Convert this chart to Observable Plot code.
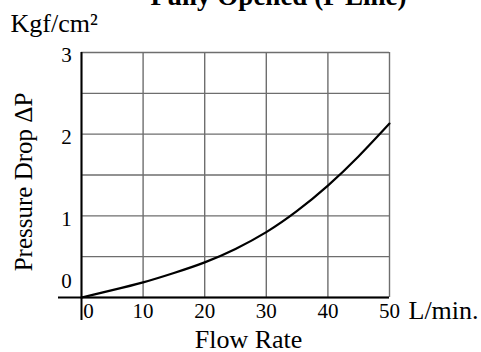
<!DOCTYPE html>
<html>
<head>
<meta charset="utf-8">
<script src="https://cdn.jsdelivr.net/npm/d3@7"></script>
<script src="https://cdn.jsdelivr.net/npm/@observablehq/plot@0.6"></script>
<style>
  html, body { margin: 0; padding: 0; background: #fff; }
  #chart { width: 481px; height: 352px; overflow: hidden; }
</style>
</head>
<body>
<div id="chart"></div>
<script>
const title = "Fully Opened (P Line)";
const unitY = "Kgf/cm²";
const labelY = "Pressure Drop ΔP";
const labelX = "Flow Rate";
const unitX = "L/min.";

const flow = [0, 5, 10, 15, 20, 25, 30, 35, 40, 45, 50];
const pressureDrop = [0, 0.09, 0.185, 0.30, 0.43, 0.595, 0.80, 1.06, 1.37, 1.73, 2.13];

const xTicks = [0, 10, 20, 30, 40, 50];
const yTicks = [0, 1, 2, 3];
const yGrid = [0, 0.5, 1, 1.5, 2, 2.5, 3];

const data = flow.map((f, i) => ({flow: f, dp: pressureDrop[i]}));

const serif = "'Liberation Serif', 'Times New Roman', serif";

const chart = Plot.plot({
  width: 481,
  height: 352,
  marginLeft: 81,
  marginRight: 92,
  marginTop: 52,
  marginBottom: 55,
  style: {fontFamily: serif, background: "#fff", overflow: "visible"},
  x: {domain: [0, 50], axis: null},
  y: {domain: [0, 3], axis: null},
  marks: [
    Plot.gridX(xTicks, {stroke: "#6e6e6e", strokeOpacity: 1, strokeWidth: 1.4}),
    Plot.gridY(yGrid, {stroke: "#6e6e6e", strokeOpacity: 1, strokeWidth: 1.4}),
    Plot.ruleX([0], {stroke: "#000", strokeWidth: 2, insetBottom: -23}),
    Plot.ruleY([0], {stroke: "#000", strokeWidth: 2, insetLeft: -23}),
    Plot.line(data, {x: "flow", y: "dp", curve: "natural", stroke: "#000", strokeWidth: 2.2}),
    // x tick labels
    Plot.text(xTicks.filter(d => d !== 0), {x: d => d, frameAnchor: "bottom", lineAnchor: "top", dy: 6, fontSize: 21, fill: "#000"}),
    Plot.text(xTicks.filter(d => d === 0), {x: d => d, frameAnchor: "bottom", lineAnchor: "top", dy: 6, dx: 7, fontSize: 21, fill: "#000"}),
    // y tick labels
    Plot.text(yTicks.filter(d => d !== 0), {y: d => d, frameAnchor: "left", textAnchor: "middle", dx: -15, dy: 3, fontSize: 21, fill: "#000"}),
    Plot.text(yTicks.filter(d => d === 0), {y: d => d, frameAnchor: "left", textAnchor: "middle", dx: -15, dy: -16, fontSize: 21, fill: "#000"}),
    // axis labels
    Plot.text([unitX], {frameAnchor: "bottom-right", textAnchor: "start", lineAnchor: "bottom", dx: 19, dy: 21, fontSize: 26, fill: "#000"}),
    Plot.text([labelX], {frameAnchor: "bottom", lineAnchor: "bottom", dx: 13, dy: 50, fontSize: 26, fill: "#000"}),
    Plot.text([labelY], {frameAnchor: "left", textAnchor: "middle", lineAnchor: "middle", rotate: -90, dx: -58, dy: 7, fontSize: 25, fill: "#000"}),
    Plot.text([unitY], {frameAnchor: "top-left", textAnchor: "start", lineAnchor: "bottom", dx: -71, dy: -21, fontSize: 26, fill: "#000"}),
    Plot.text([title], {frameAnchor: "top", lineAnchor: "bottom", dx: 43, dy: -48, fontSize: 27, fontWeight: "bold", fill: "#000"})
  ]
});
document.getElementById("chart").appendChild(chart);
</script>
</body>
</html>
